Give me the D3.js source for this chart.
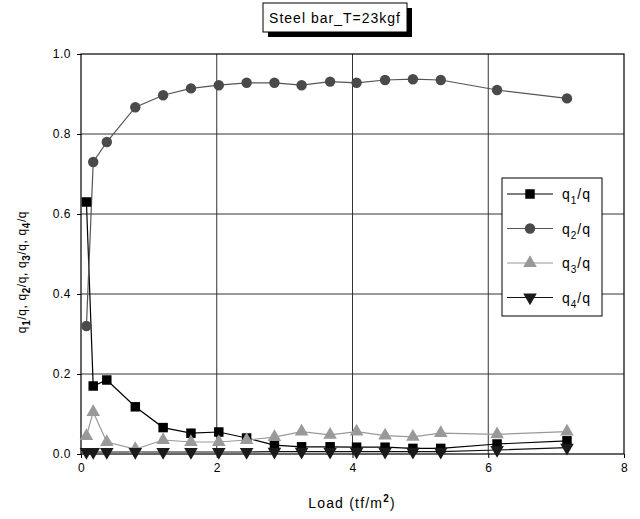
<!DOCTYPE html>
<html>
<head>
<meta charset="utf-8">
<script src="https://cdn.jsdelivr.net/npm/d3@7"></script>
<style>
  body { margin: 0; background: #fff; }
  svg text { font-family: "Liberation Sans", Arial, sans-serif; }
</style>
</head>
<body>
<div id="chart"></div>
<script>
// load values (tf/m2) where each reading was taken
const loads = [0.08, 0.18, 0.38, 0.80, 1.21, 1.62, 2.03, 2.44, 2.85, 3.25, 3.67, 4.06, 4.48, 4.89, 5.30, 6.13, 7.16];
const q1 = [0.63, 0.17, 0.185, 0.118, 0.066, 0.052, 0.055, 0.04, 0.022, 0.018, 0.018, 0.017, 0.017, 0.014, 0.014, 0.025, 0.033];
const q2 = [0.32, 0.73, 0.78, 0.867, 0.897, 0.914, 0.922, 0.928, 0.928, 0.922, 0.931, 0.928, 0.935, 0.937, 0.935, 0.91, 0.889];
const q3 = [0.045, 0.105, 0.03, 0.012, 0.035, 0.03, 0.03, 0.035, 0.042, 0.056, 0.048, 0.056, 0.046, 0.043, 0.052, 0.049, 0.056];
const q4 = [0.005, 0.005, 0.005, 0.005, 0.005, 0.005, 0.005, 0.005, 0.006, 0.006, 0.006, 0.006, 0.006, 0.006, 0.006, 0.01, 0.016];
const xTicks = [0, 2, 4, 6, 8];
const yTicks = [0, 0.2, 0.4, 0.6, 0.8, 1.0];
const seriesNames = ["1", "2", "3", "4"];

const width = 640, height = 519;
const plotLeft = 81, plotRight = 624, plotTop = 54, plotBottom = 454;

const svg = d3.select("#chart").append("svg")
    .attr("width", width)
    .attr("height", height);

svg.append("rect").attr("width", width).attr("height", height).attr("fill", "#fff");

const x = d3.scaleLinear().domain([0, 8]).range([plotLeft, plotRight]);
const y = d3.scaleLinear().domain([0, 1]).range([plotBottom, plotTop]);

//grid lines
svg.append("g")
    .selectAll("line")
    .data(xTicks.slice(1, -1))
    .enter().append("line")
    .attr("x1", d => x(d)).attr("x2", d => x(d))
    .attr("y1", plotTop).attr("y2", plotBottom)
    .attr("stroke", "#333").attr("stroke-width", 1);

svg.append("g")
    .selectAll("line")
    .data(yTicks.slice(1, -1))
    .enter().append("line")
    .attr("x1", plotLeft).attr("x2", plotRight)
    .attr("y1", d => y(d)).attr("y2", d => y(d))
    .attr("stroke", "#333").attr("stroke-width", 1);

//axes
const xAxis = svg.append("g")
    .attr("transform", `translate(0,${plotBottom})`)
    .call(d3.axisBottom(x).tickValues(xTicks).tickSize(4).tickSizeOuter(0).tickPadding(5));
const yAxis = svg.append("g")
    .attr("transform", `translate(${plotLeft},0)`)
    .call(d3.axisLeft(y).tickValues(yTicks).tickSize(4).tickSizeOuter(0).tickPadding(6).tickFormat(d3.format(".1f")));
[xAxis, yAxis].forEach(a => {
    a.select(".domain").remove();
    a.selectAll("text").attr("font-size", 12).attr("fill", "#000")
        .attr("letter-spacing", 0.5)
        .style("font-family", "'Liberation Sans', Arial, sans-serif");
    a.selectAll("line").attr("stroke", "#000");
});

//plot frame
svg.append("rect")
    .attr("x", plotLeft).attr("y", plotTop)
    .attr("width", plotRight - plotLeft).attr("height", plotBottom - plotTop)
    .attr("fill", "none").attr("stroke", "#000").attr("stroke-width", 1.2);

const series = [
    { name: "1", values: q1, color: "#000", fill: "#000", symbol: d3.symbolSquare, size: 90, rot: 0 },
    { name: "2", values: q2, color: "#555", fill: "#4a4a4a", symbol: d3.symbolCircle, size: 85, rot: 0 },
    { name: "3", values: q3, color: "#999", fill: "#999", symbol: d3.symbolTriangle, size: 80, rot: 0 },
    { name: "4", values: q4, color: "#111", fill: "#1a1a1a", symbol: d3.symbolTriangle, size: 80, rot: 180 }
];

const line = d3.line()
    .x((d, i) => x(loads[i]))
    .y(d => y(d));

//lines first, then markers on top
series.forEach(s => {
    svg.append("path")
        .datum(s.values)
        .attr("d", line)
        .attr("fill", "none")
        .attr("stroke", s.color)
        .attr("stroke-width", 1.2);
});
series.forEach(s => {
    svg.append("g")
        .selectAll("path")
        .data(s.values)
        .enter().append("path")
        .attr("d", d3.symbol().type(s.symbol).size(s.size))
        .attr("transform", (d, i) => `translate(${x(loads[i])},${y(d)}) rotate(${s.rot})`)
        .attr("fill", s.fill);
});

//title box with shadow
const title = svg.append("g");
title.append("rect").attr("x", 268).attr("y", 8).attr("width", 144).attr("height", 29).attr("fill", "#000");
title.append("rect").attr("x", 263).attr("y", 3).attr("width", 144).attr("height", 29)
    .attr("fill", "#fff").attr("stroke", "#000").attr("stroke-width", 1);
title.append("text").attr("x", 335).attr("y", 23).attr("text-anchor", "middle")
    .attr("font-size", 14).attr("letter-spacing", 1).text("Steel bar_T=23kgf");

//legend
const legend = svg.append("g");
legend.append("rect").attr("x", 502).attr("y", 178).attr("width", 100).attr("height", 138)
    .attr("fill", "#fff").attr("stroke", "#000").attr("stroke-width", 1);
series.forEach((s, i) => {
    const ly = 194 + i * 34.5;
    legend.append("line").attr("x1", 507).attr("x2", 553).attr("y1", ly).attr("y2", ly)
        .attr("stroke", s.color).attr("stroke-width", 1.2);
    legend.append("path")
        .attr("d", d3.symbol().type(s.symbol).size(s.size))
        .attr("transform", `translate(530,${ly}) rotate(${s.rot})`)
        .attr("fill", s.fill);
    const t = legend.append("text").attr("x", 562).attr("y", ly + 5)
        .attr("font-size", 14).attr("letter-spacing", 1);
    t.append("tspan").text("q");
    t.append("tspan").attr("font-size", 10).attr("dy", 5).text(s.name);
    t.append("tspan").attr("dy", -5).text("/q");
});

//y axis title with subscripts
const yt = svg.append("text")
    .attr("transform", "translate(26,272) rotate(-90)")
    .attr("text-anchor", "middle")
    .attr("font-size", 12)
    .attr("letter-spacing", 0.6);
seriesNames.forEach((n, i) => {
    yt.append("tspan").text("q");
    yt.append("tspan").attr("font-size", 10).attr("font-weight", "bold").attr("dy", 4).text(n);
    yt.append("tspan").attr("dy", -4).text(i < seriesNames.length - 1 ? "/q, " : "/q");
});

//x axis title
const xt = svg.append("text").attr("x", 352).attr("y", 508)
    .attr("text-anchor", "middle").attr("font-size", 14).attr("letter-spacing", 1.2);
xt.append("tspan").text("Load (tf/m");
xt.append("tspan").attr("font-size", 10).attr("font-weight", "bold").attr("dy", -6).text("2");
xt.append("tspan").attr("dy", 6).text(")");
</script>
</body>
</html>
